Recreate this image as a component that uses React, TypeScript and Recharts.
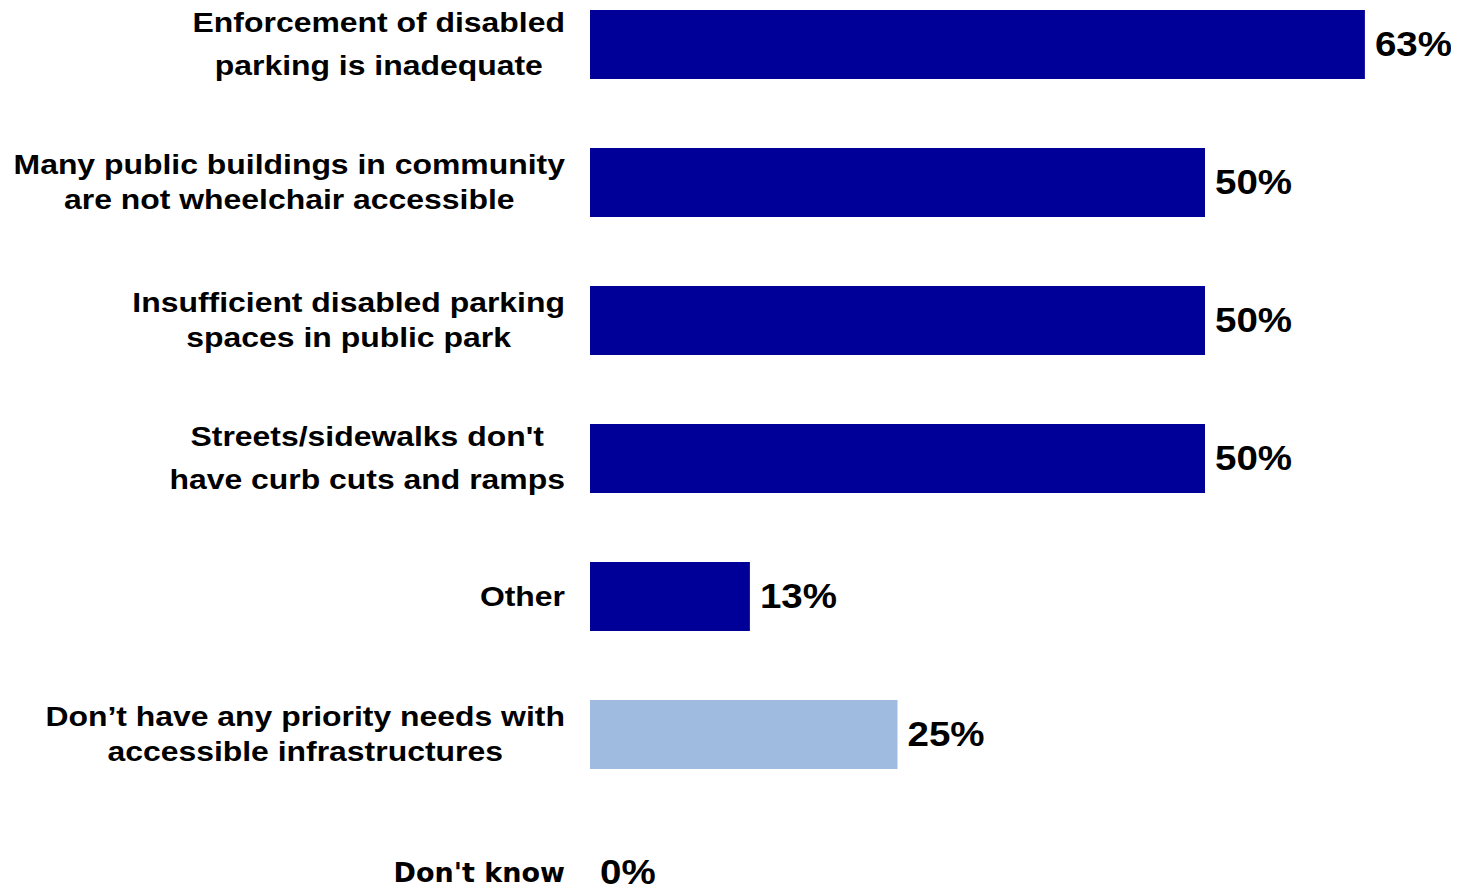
import { Bar, BarChart, Cell, LabelList, XAxis, YAxis } from "recharts";

const categories: string[] = [
  "Enforcement of disabled\nparking is inadequate",
  "Many public buildings in community\nare not wheelchair accessible",
  "Insufficient disabled parking\nspaces in public park",
  "Streets/sidewalks don't\nhave curb cuts and ramps",
  "Other",
  "Don\u2019t have any priority needs with\naccessible infrastructures",
  "Don't know",
];

const values: number[] = [63, 50, 50, 50, 13, 25, 0];

const barColors: string[] = ["#000099", "#000099", "#000099", "#000099", "#000099", "#9FBBE0", "#000099"];

const data = categories.map((name, i) => ({ name, value: values[i], color: barColors[i] }));

const lineGaps = [43, 35, 35, 43, 35, 35, 35];
const LABEL_FONT = "'Liberation Sans', Arial, sans-serif";

let canvas: HTMLCanvasElement | null = null;
function measure(text: string, font: string) {
  if (!canvas) canvas = document.createElement("canvas");
  const ctx = canvas.getContext("2d")!;
  ctx.font = font;
  return ctx.measureText(text).width;
}

function CategoryTick(props: any) {
  const { x, y, payload, index } = props;
  const lines: string[] = String(payload.value).split("\n");
  const lastRow = index === categories.length - 1;
  const family = lastRow ? "'DejaVu Sans', sans-serif" : LABEL_FONT;
  const size = lastRow ? 27 : 28;
  const sx = lastRow ? 1 : 1.14;
  const widths = lines.map((l) => measure(l, `bold ${size}px ${family}`) * sx);
  const maxW = Math.max(...widths);
  const right = x - 17;
  const cx = right - maxW / 2;
  const gap = lineGaps[index] ?? 35;
  return (
    <g>
      {lines.map((line, i) => {
        const ly = y + (i - (lines.length - 1) / 2) * gap;
        return (
          <text
            key={i}
            transform={`translate(${cx},${ly}) scale(${sx},1)`}
            textAnchor="middle"
            dominantBaseline="central"
            fontFamily={family}
            fontWeight="bold"
            fontSize={size}
            fill="#000"
          >
            {line}
          </text>
        );
      })}
    </g>
  );
}

function ValueLabel(props: any) {
  const { x, y, width, height, value } = props;
  const lx = Number(x) + Number(width) + 10;
  const ly = Number(y) + Number(height) / 2;
  return (
    <text
      transform={`translate(${lx},${ly}) scale(1.1,1)`}
      textAnchor="start"
      dominantBaseline="central"
      fontFamily={LABEL_FONT}
      fontWeight="bold"
      fontSize={35}
      fill="#000"
    >
      {`${value}%`}
    </text>
  );
}

export default function App() {
  return (
    <div style={{ marginTop: -33, width: 1451, height: 966, background: "#fff" }}>
      <BarChart
        width={1451}
        height={966}
        data={data}
        layout="vertical"
        margin={{ top: 0, right: 8, bottom: 0, left: 0 }}
      >
        <XAxis type="number" domain={[0, 70]} hide />
        <YAxis
          type="category"
          dataKey="name"
          width={582}
          axisLine={false}
          tickLine={false}
          tickSize={0}
          tickMargin={8}
          interval={0}
          tick={<CategoryTick />}
        />
        <Bar
          dataKey="value"
          barSize={69}
          minPointSize={(v: number) => (v === 0 ? 0.001 : 0)}
          isAnimationActive={false}
        >
          {data.map((d, i) => (
            <Cell key={i} fill={d.color} />
          ))}
          <LabelList dataKey="value" content={<ValueLabel />} />
        </Bar>
      </BarChart>
    </div>
  );
}
